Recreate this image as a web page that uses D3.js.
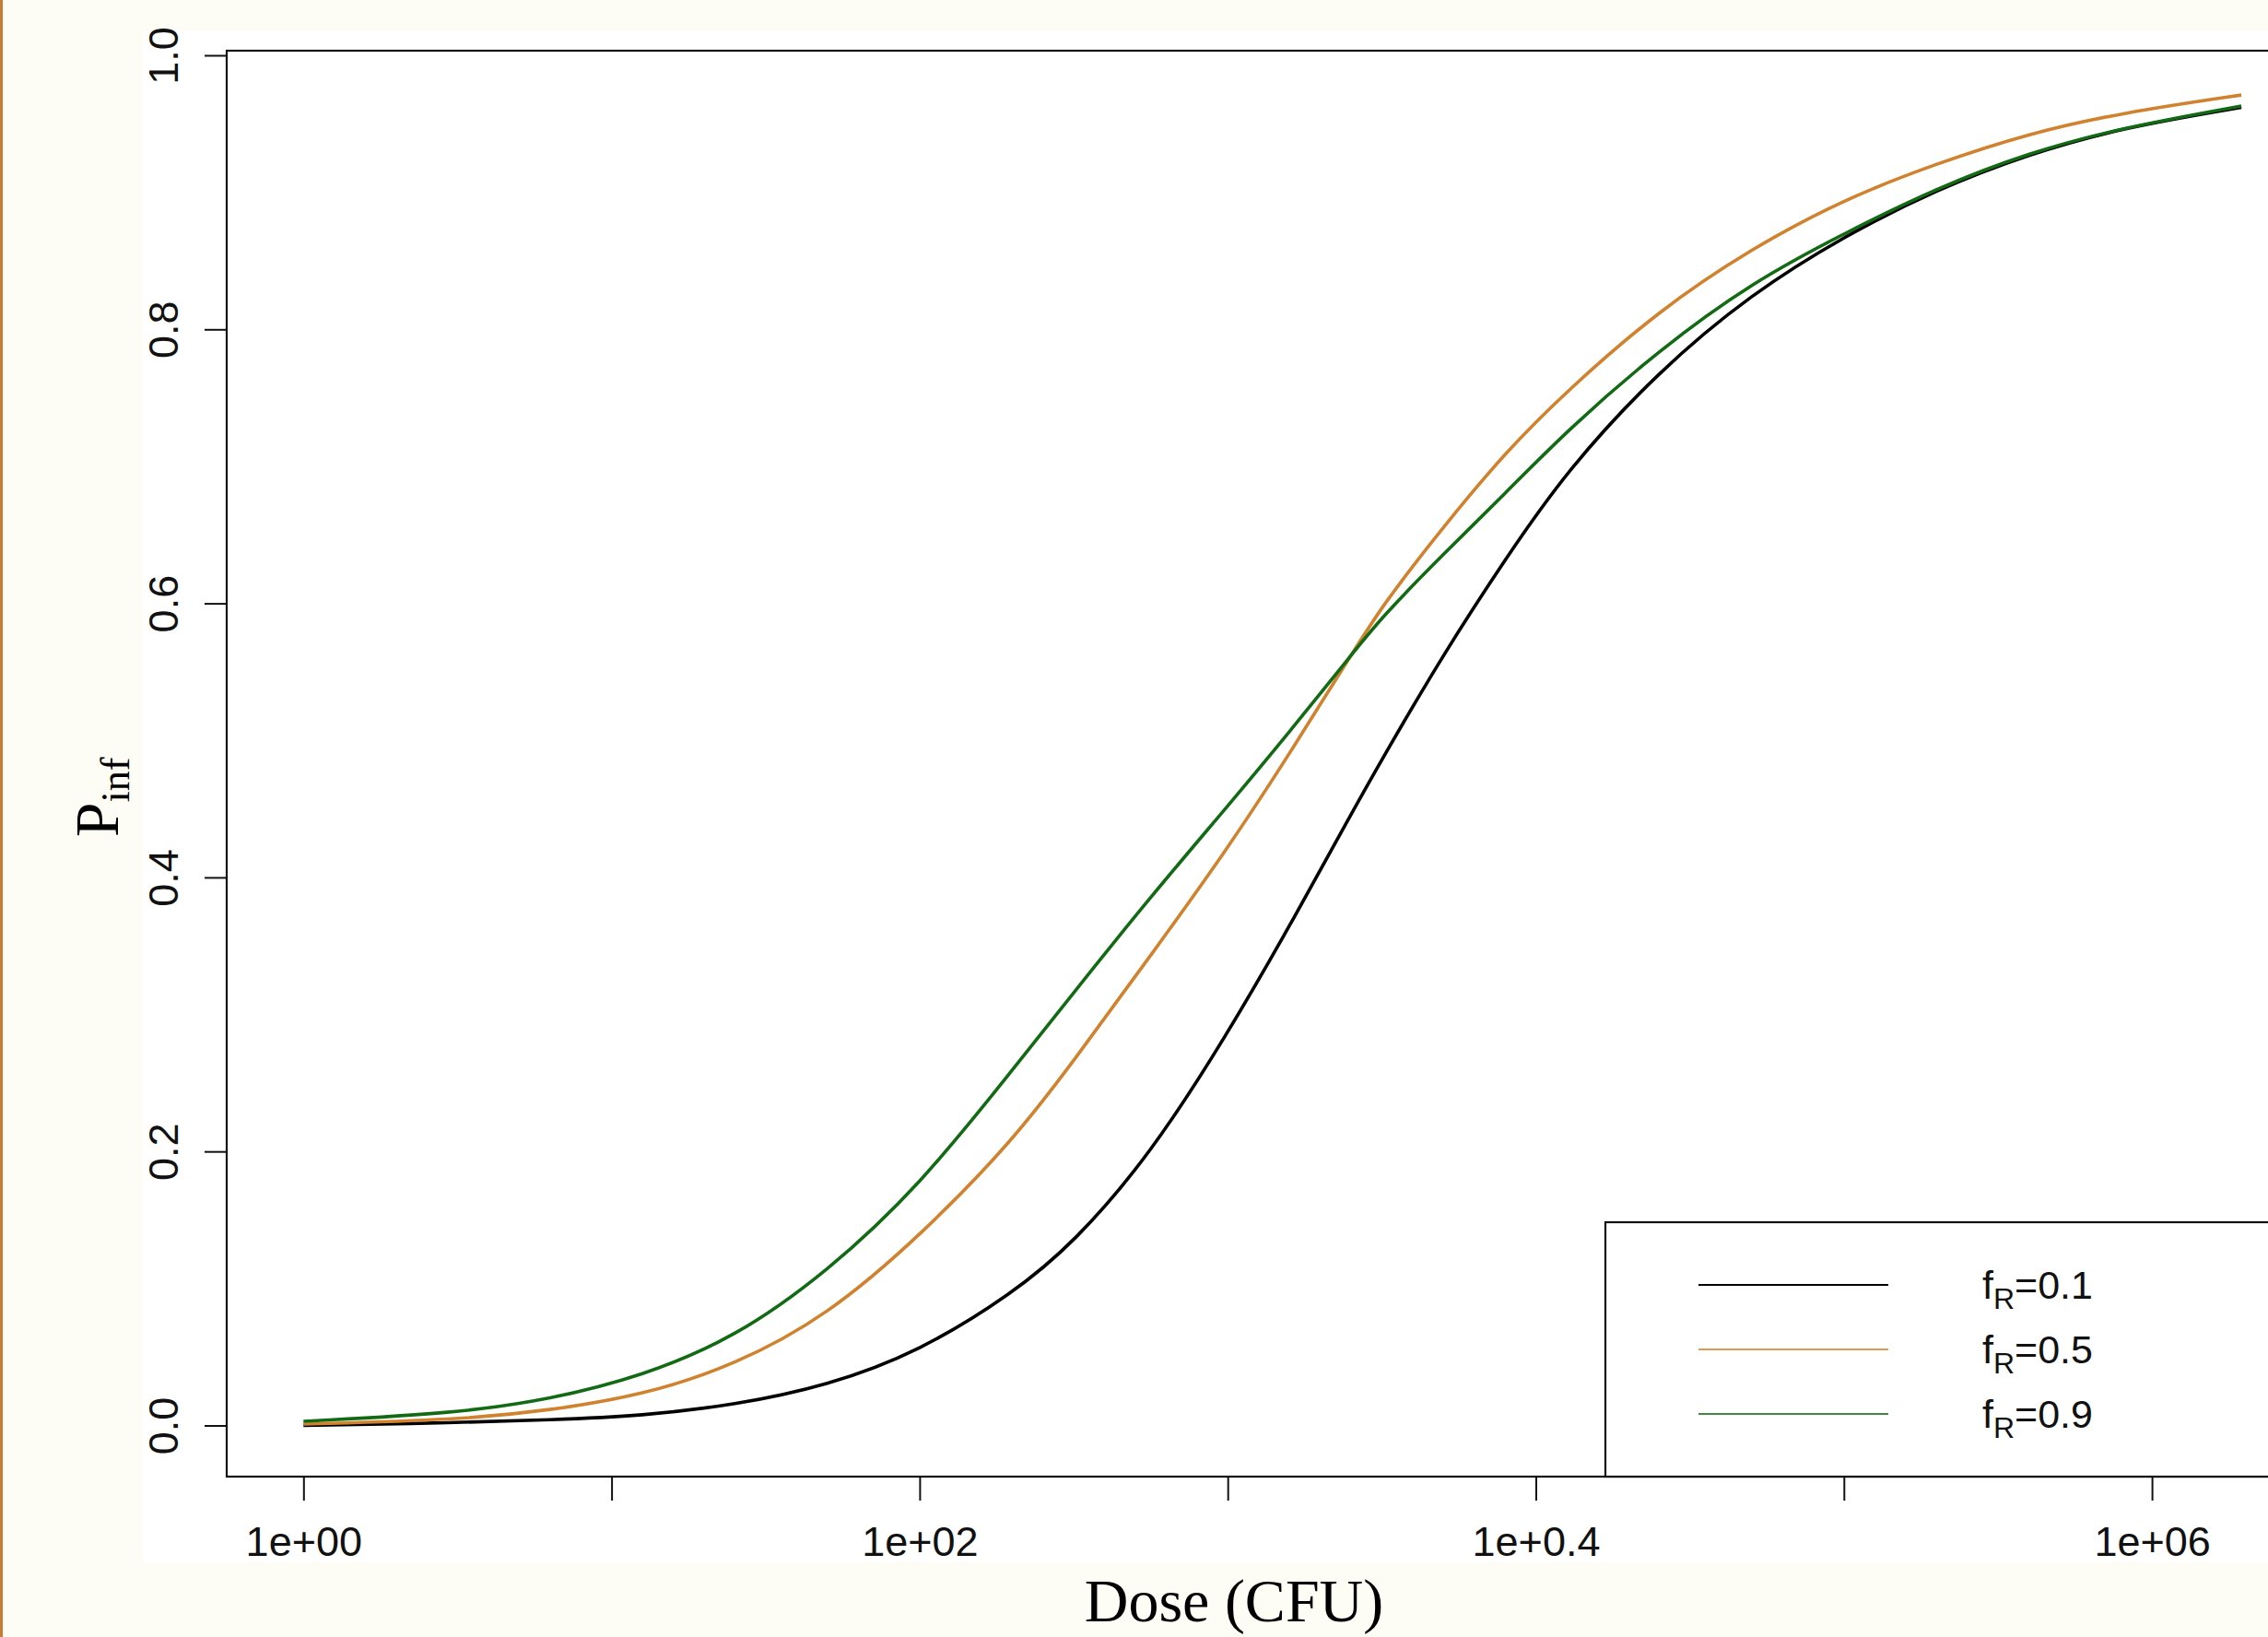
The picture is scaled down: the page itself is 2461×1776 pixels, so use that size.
<!DOCTYPE html>
<html>
<head>
<meta charset="utf-8">
<script src="https://cdn.jsdelivr.net/npm/d3@7"></script>
<style>
  html, body { margin: 0; padding: 0; background: #fefdf5; }
  svg { display: block; }
</style>
</head>
<body>
<svg id="chart" width="2461" height="1776"></svg>
<script>
// ---- data ----
const doseLog10 = [0, 0.5, 0.8, 1.1, 1.4, 1.7, 2.0, 2.3, 2.5, 2.75, 3.0, 3.2, 3.4, 3.5, 3.7, 3.9, 4.1, 4.4, 4.7, 5.0, 5.3, 5.6, 5.9, 6.29];
const pInf_fR01 = [0.000, 0.002, 0.004, 0.007, 0.015, 0.029, 0.054, 0.096, 0.133, 0.198, 0.286, 0.364, 0.446, 0.486, 0.563, 0.632, 0.697, 0.770, 0.826, 0.868, 0.902, 0.928, 0.947, 0.962];
const pInf_fR05 = [0.001, 0.004, 0.011, 0.022, 0.044, 0.080, 0.138, 0.207, 0.266, 0.343, 0.421, 0.490, 0.562, 0.598, 0.656, 0.710, 0.755, 0.814, 0.859, 0.895, 0.921, 0.943, 0.958, 0.971];
const pInf_fR09 = [0.003, 0.009, 0.019, 0.036, 0.064, 0.112, 0.175, 0.259, 0.316, 0.386, 0.452, 0.506, 0.562, 0.590, 0.636, 0.680, 0.726, 0.785, 0.834, 0.870, 0.903, 0.929, 0.947, 0.963];
const seriesLabels = ["0.1", "0.5", "0.9"];
const seriesColors = ["#000000", "#d0822e", "#126b14"];
const xTickValues = [1, 10, 100, 1000, 10000, 100000, 1000000];
const xTickLabels = ["1e+00", "", "1e+02", "", "1e+0.4", "", "1e+06"];
const yTickValues = [0, 0.2, 0.4, 0.6, 0.8, 1.0];
const yTickLabels = ["0.0", "0.2", "0.4", "0.6", "0.8", "1.0"];

const seriesValues = [pInf_fR01, pInf_fR05, pInf_fR09];

// ---- layout ----
const W = 2461, H = 1776;
const plot = { left: 246, top: 55, bottom: 1602, right: 2475 };
const svg = d3.select("#chart");

// background
svg.append("rect").attr("x", 0).attr("y", 0).attr("width", W).attr("height", H).attr("fill", "#fefdf5");
svg.append("rect").attr("x", 155).attr("y", 33).attr("width", W - 155).attr("height", 1695 - 33).attr("fill", "#ffffff");
svg.append("rect").attr("x", 0).attr("y", 0).attr("width", 3).attr("height", H).attr("fill", "#c97a33");

// scales
const x = d3.scaleLog().domain([1, 1e6]).range([329.3, 329.3 + 6 * 334.3]);
const y = d3.scaleLinear().domain([0, 1]).range([1546.5, 60]);

// lines
const line = d3.line()
  .x(d => x(Math.pow(10, d[0])))
  .y(d => y(d[1]))
  .curve(d3.curveBasis);

seriesValues.forEach((vals, i) => {
  const pts = doseLog10.map((lx, j) => [lx, vals[j]]);
  svg.append("path")
    .datum(pts)
    .attr("d", line)
    .attr("fill", "none")
    .attr("stroke", seriesColors[i])
    .attr("stroke-width", 3.6)
    .attr("stroke-linejoin", "round");
});

// plot box
svg.append("rect")
  .attr("x", plot.left).attr("y", plot.top)
  .attr("width", plot.right - plot.left).attr("height", plot.bottom - plot.top)
  .attr("fill", "none").attr("stroke", "#111").attr("stroke-width", 2.2);

// x axis
const xAxis = d3.axisBottom(x)
  .tickValues(xTickValues)
  .tickFormat((d, i) => xTickLabels[i])
  .tickSize(26)
  .tickSizeOuter(0);
const gx = svg.append("g").attr("transform", `translate(0,${plot.bottom})`).call(xAxis);
gx.select(".domain").remove();
gx.selectAll(".tick line").attr("stroke", "#111").attr("stroke-width", 2);
gx.selectAll(".tick text")
  .attr("y", 86).attr("dy", 0)
  .attr("fill", "#111")
  .style("font-family", "'Liberation Sans', Arial, sans-serif")
  .style("font-size", "45px");

// y axis
const yAxis = d3.axisLeft(y)
  .tickValues(yTickValues)
  .tickFormat((d, i) => yTickLabels[i])
  .tickSize(24)
  .tickSizeOuter(0);
const gy = svg.append("g").attr("transform", `translate(${plot.left},0)`).call(yAxis);
gy.select(".domain").remove();
gy.selectAll(".tick line").attr("stroke", "#111").attr("stroke-width", 2);
gy.selectAll(".tick text")
  .attr("transform", "rotate(-90)")
  .attr("x", 0).attr("y", -53).attr("dy", 0)
  .attr("text-anchor", "middle")
  .attr("fill", "#111")
  .style("font-family", "'Liberation Sans', Arial, sans-serif")
  .style("font-size", "45px");

// axis titles
svg.append("text")
  .attr("x", 1339).attr("y", 1759)
  .attr("text-anchor", "middle")
  .style("font-family", "'Liberation Serif', 'Times New Roman', serif")
  .style("font-size", "66px")
  .attr("fill", "#000")
  .text("Dose (CFU)");

const yl = svg.append("text")
  .attr("transform", "translate(128,865) rotate(-90)")
  .attr("text-anchor", "middle")
  .style("font-family", "'Liberation Serif', 'Times New Roman', serif")
  .style("font-size", "68px")
  .attr("fill", "#000");
yl.append("tspan").text("P");
yl.append("tspan").attr("dy", 12).style("font-size", "44px").text("inf");

// legend
const legend = { left: 1742, top: 1326 };
svg.append("rect")
  .attr("x", legend.left).attr("y", legend.top)
  .attr("width", plot.right - legend.left).attr("height", plot.bottom - legend.top)
  .attr("fill", "#ffffff").attr("stroke", "#111").attr("stroke-width", 2.2);

const legendY = [1394, 1464, 1534];
seriesLabels.forEach((lab, i) => {
  svg.append("line")
    .attr("x1", 1843).attr("x2", 2049)
    .attr("y1", legendY[i]).attr("y2", legendY[i])
    .attr("stroke", seriesColors[i])
    .attr("stroke-width", 2)
    .attr("stroke-opacity", i === 0 ? 1 : 0.8);
  const t = svg.append("text")
    .attr("x", 2151).attr("y", legendY[i] + 15)
    .style("font-family", "'Liberation Sans', Arial, sans-serif")
    .style("font-size", "43px")
    .attr("fill", "#111");
  t.append("tspan").text("f");
  t.append("tspan").attr("dy", 11).style("font-size", "32px").text("R");
  t.append("tspan").attr("dy", -11).text("=" + lab);
});
</script>
</body>
</html>
